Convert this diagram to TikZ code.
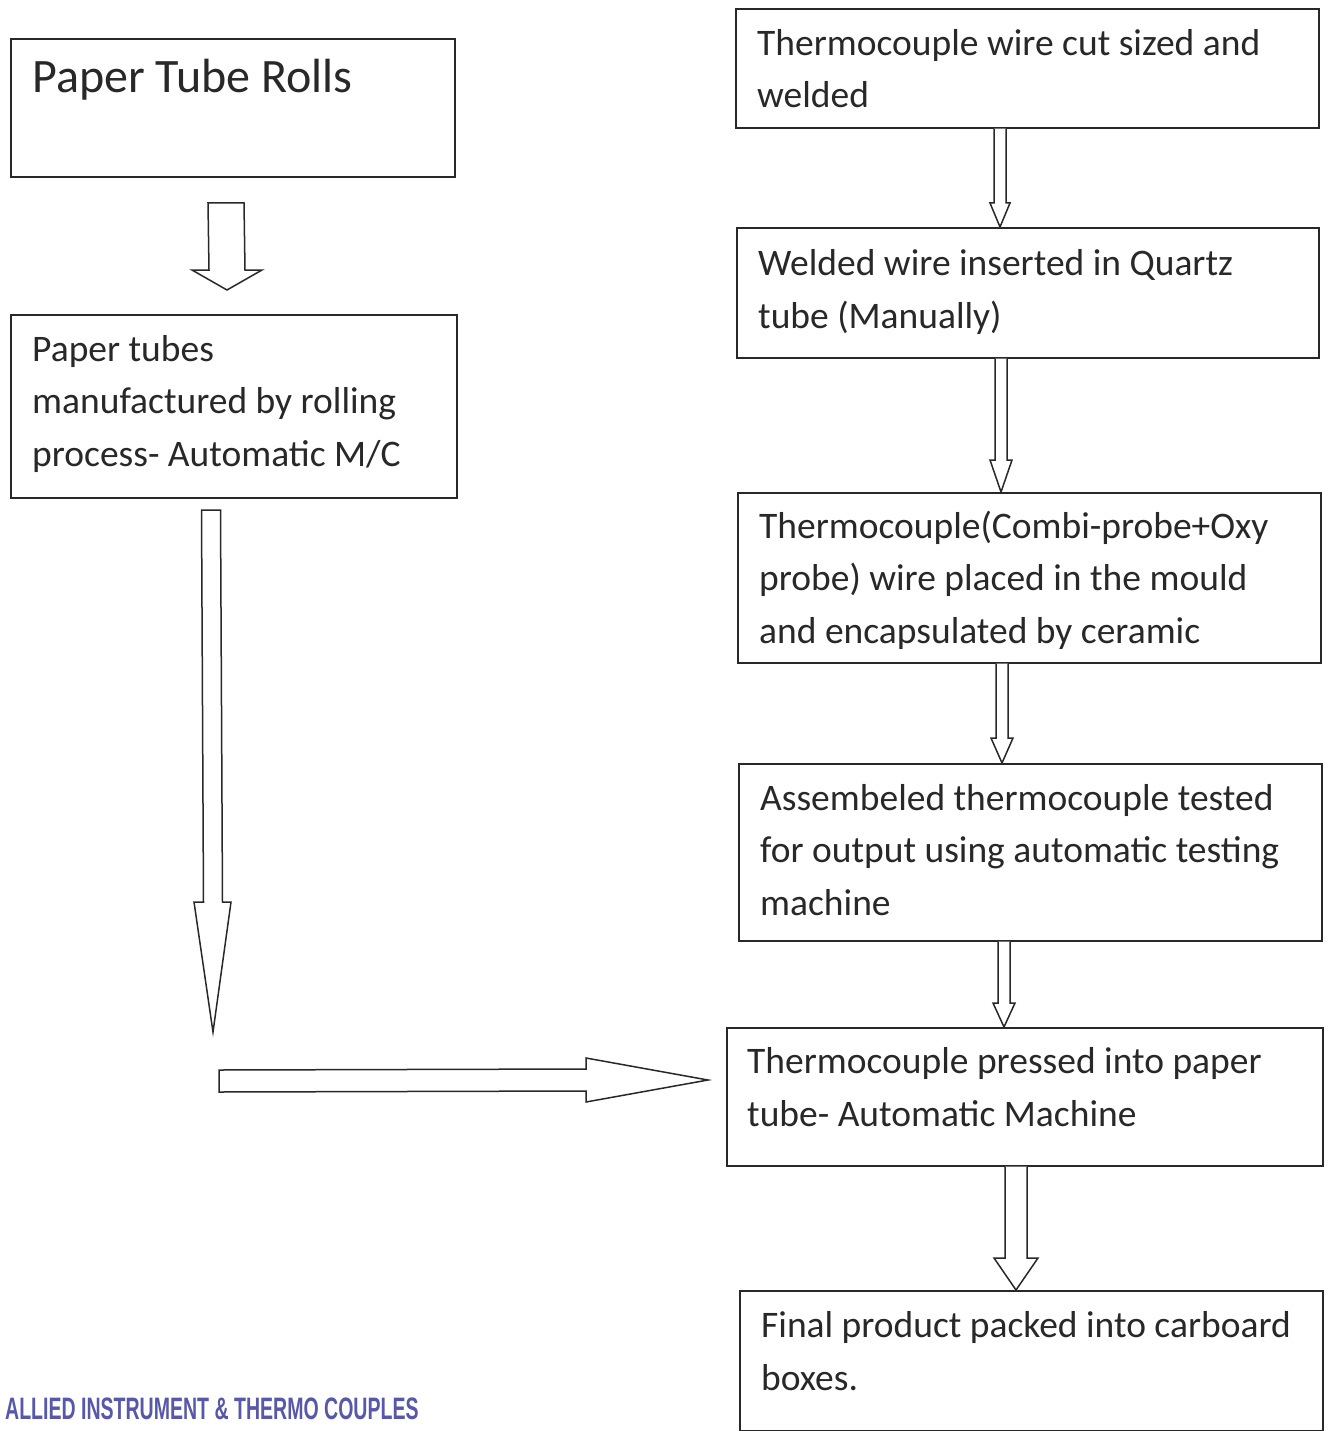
\documentclass[tikz,border=0pt]{standalone}
\usepackage{fontspec}
\setmainfont{Carlito}
\newfontfamily\stampfont[FakeStretch=0.63]{Liberation Sans}
\usetikzlibrary{calc}
\definecolor{ink}{RGB}{40,40,40}
\definecolor{stampblue}{RGB}{88,88,170}
\tikzset{
  boxnode/.style={draw=ink, line width=1.6pt, inner sep=0pt, anchor=north west},
  txt/.style={anchor=base west, inner sep=0pt, align=left, text=ink,
    font=\fontsize{37.5}{52.5}\selectfont},
  bigtxt/.style={anchor=base west, inner sep=0pt, text=ink,
    font=\fontsize{48}{56}\selectfont},
  blk/.style={draw=ink, line width=1.5pt, line join=miter, fill=white},
}
% vertical block arrow from #1 (top, open) to #2 (tip)
\newcommand\vblock[5]{%
  \draw[blk] ($(#1)+(-#3,0)$) -- ($(#2)+(-#3,-#5)$) -- ($(#2)+(-#4,-#5)$) -- (#2)
    -- ($(#2)+(#4,-#5)$) -- ($(#2)+(#3,-#5)$) -- ($(#1)+(#3,0)$);}
\begin{document}
\begin{tikzpicture}[x=1pt,y=-1pt]
\useasboundingbox[fill=white] (0,0) rectangle (1328,1431);

% left column
\node[boxnode, minimum width=444pt, minimum height=138pt] (L1) at (10,38) {};
\node[bigtxt] (L1t) at (32,93) {Paper Tube Rolls};
\node[boxnode, minimum width=446pt, minimum height=183pt] (L2) at (10,314) {};
\node[txt] (L2t) at (32,466) {Paper tubes\\manufactured by rolling\\process- Automatic M/C};

% right column
\node[boxnode, minimum width=583pt, minimum height=119pt] (R1) at (735,8) {};
\node[txt] (R1t) at (757,108) {Thermocouple wire cut sized and\\welded};
\node[boxnode, minimum width=582pt, minimum height=130pt] (R2) at (736,227) {};
\node[txt] (R2t) at (758,328) {Welded wire inserted in Quartz\\tube (Manually)};
\node[boxnode, minimum width=583pt, minimum height=170pt] (R3) at (737,492) {};
\node[txt] (R3t) at (759,643) {Thermocouple(Combi-probe+Oxy\\probe) wire placed in the mould\\and encapsulated by ceramic};
\node[boxnode, minimum width=583pt, minimum height=177pt] (R4) at (738,763) {};
\node[txt] (R4t) at (760,915) {Assembeled thermocouple tested\\for output using automatic testing\\machine};
\node[boxnode, minimum width=596pt, minimum height=138pt] (R5) at (726,1027) {};
\node[txt] (R5t) at (747,1126) {Thermocouple pressed into paper\\tube- Automatic Machine};
\node[boxnode, minimum width=583pt, minimum height=140pt] (R6) at (739,1290) {};
\node[txt] (R6t) at (761,1390) {Final product packed into carboard\\boxes.};

% stamp
\node[anchor=base west, inner sep=0pt, text=stampblue, font=\stampfont\bfseries\fontsize{31}{31}\selectfont] (stamp) at (5,1419) {ALLIED INSTRUMENT \& THERMO COUPLES};

% arrows between right boxes
\coordinate (x1) at (1000,0);
\coordinate (x2) at (1001,0);
\coordinate (x3) at (1002,0);
\coordinate (x4) at (1004,0);
\coordinate (x5) at (1016,0);
\coordinate (a1s) at (R1.south -| x1); \coordinate (a1e) at (R2.north -| x1);
\coordinate (a2s) at (R2.south -| x2); \coordinate (a2e) at (R3.north -| x2);
\coordinate (a3s) at (R3.south -| x3); \coordinate (a3e) at (R4.north -| x3);
\coordinate (a4s) at (R4.south -| x4); \coordinate (a4e) at (R5.north -| x4);
\coordinate (a5s) at (R5.south -| x5); \coordinate (a5e) at (R6.north -| x5);
\vblock{a1s}{a1e}{6}{10}{24}
\vblock{a2s}{a2e}{6}{11}{32}
\vblock{a3s}{a3e}{6}{11}{25}
\vblock{a4s}{a4e}{6}{11}{24}
\vblock{a5s}{a5e}{11}{22}{32}

% left short arrow
\coordinate (s1) at (226,203);
\coordinate (s1e) at (227,290);
\draw[blk] ($(s1)+(-18,0)$) -- ($(s1e)+(-18,-20)$) -- ($(s1e)+(-35,-20)$) -- (s1e)
  -- ($(s1e)+(35,-20)$) -- ($(s1e)+(18,-20)$) -- ($(s1)+(18,0)$) -- cycle;

% long left arrow
\coordinate (s2) at (211,510);
\coordinate (s2e) at (213,1032);
\draw[blk] ($(s2)+(-9.5,0)$) -- ($(s2e)+(-9.5,-130)$) -- ($(s2e)+(-19,-130)$) -- (s2e)
  -- ($(s2e)+(18,-130)$) -- ($(s2e)+(9.5,-130)$) -- ($(s2)+(9.5,0)$) -- cycle;

% horizontal arrow
\coordinate (h1) at (219,1081);
\coordinate (h1e) at (708,1080);
\draw[blk] ($(h1)+(0,-11)$) -- ($(h1e)+(-122,-11)$) -- ($(h1e)+(-122,-22)$) -- (h1e)
  -- ($(h1e)+(-122,22)$) -- ($(h1e)+(-122,11)$) -- ($(h1)+(0,11)$) -- cycle;
\end{tikzpicture}
\end{document}
